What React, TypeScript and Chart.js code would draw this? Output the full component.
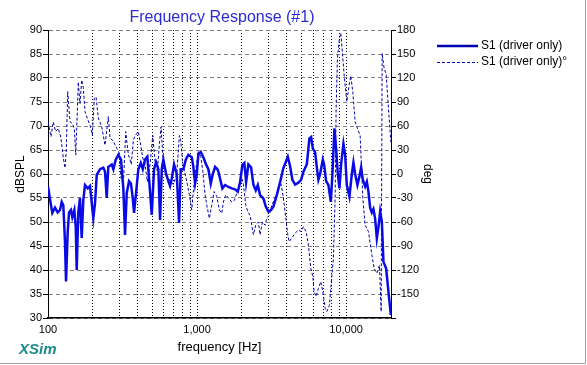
import React, { useEffect, useRef } from 'react';
import { Chart, registerables } from 'chart.js';

Chart.register(...registerables);

const splFreq = [
  100, 104.7, 106.9, 111.4, 116.2, 120.4, 123.6, 126.7, 130, 132.1, 135.6, 138.4, 142.6, 145.6, 150.2, 153.5, 155.8,
  159.7, 163.9, 168.3, 172.5, 177.1, 184.7, 191.4, 196.5, 201.4, 206.8, 212.3, 223.4, 235, 241.3, 247.7, 253.9, 267.6,
  274.4, 284.7, 296.4, 309, 320.2, 328.7, 337.4, 349.6, 360, 370.2, 377.8, 389.6, 403.6, 419, 432.2, 447.7, 463.9,
  478.5, 496.6, 514.5, 530.6, 549.9, 564.6, 579.6, 594.1, 619.4, 641.8, 658.9, 676.4, 700.8, 730.8, 757.2, 777.3,
  809.3, 839.8, 874.2, 921.3, 944.6, 969.6, 995.4, 1020, 1059, 1102, 1149, 1191, 1236, 1275, 1321, 1369, 1390, 1427,
  1479, 1542, 1623, 1710, 1799, 1876, 1944, 2014, 2077, 2133, 2210, 2304, 2387, 2477, 2555, 2647, 2786, 2891, 3009,
  3137, 3251, 3427, 3606, 3795, 3938, 4062, 4209, 4361, 4546, 4785, 4989, 5169, 5448, 5672, 5823, 5978, 6194, 6360,
  6518, 6691, 6976, 7117, 7342, 7606, 7893, 8093, 8346, 8568, 8796, 9016, 9256, 9592, 9847, 10108, 10522, 10921,
  11194, 11491, 11906, 12282, 12609, 12944, 13414, 13770, 14117, 14492, 14877, 15250, 15655, 16069, 16476, 16915,
  17366, 17800, 18556, 19227, 19953,
];
const splDb = [
  57.4, 53.5, 51.9, 53, 52, 52.5, 54.2, 53.5, 45.9, 37.6, 48, 52, 52.5, 51, 52.5, 49, 40,
  52, 55, 46.7, 54.5, 57.7, 57, 57.5, 54, 50.8, 54, 59.8, 61, 61.3, 60.5, 55, 61.5, 62,
  61, 63, 64, 63, 57, 47.3, 56, 58.5, 58, 55, 51.9, 56, 61, 62.3, 61, 63, 63.6,
  58.3, 51.5, 61, 62.5, 61, 50.4, 61, 63, 60, 58.5, 57.5, 59, 62, 60, 49.8, 61,
  61, 63, 64, 63.5, 61.5, 58, 60, 64, 64.6, 63.5, 62, 61, 58, 60, 61.5, 61, 60.5, 59,
  57, 57.7, 57.3, 57, 56.8, 56.3, 58.3, 61.9, 62.3, 58.3, 62, 61.4, 57.8, 56.6, 57.7, 55.6, 54.9, 53.2, 52.2,
  52.5, 53.2, 55.6, 58.3, 61.3, 62.5, 63.6, 61.6, 58.8, 57.8, 58.2, 58.8, 60.5, 62, 67.4, 67.7, 65.3, 64.5, 61.4,
  58.8, 60, 63, 62, 58.5, 57.7, 54.2, 60, 69.5, 65.3, 60, 57, 62, 66.3, 64, 57.7, 55.3, 60,
  62.4, 60, 57.7, 59.5, 61.4, 58.8, 57.4, 58.4, 56.3, 53, 52, 52.7, 50.7, 46.6, 49, 52.2,
  50, 41.7, 40.3, 35.5, 30.6,
];

const phaseFreq = [
  100, 104.7, 108.5, 112.6, 117.3, 122.2, 126.7, 130, 132.7, 135.6, 140.5, 145.6, 150.2, 153.5, 157.3, 159.7, 163.9,
  168.3, 172.5, 177.1, 184.7, 191.4, 198.3, 204.5, 210, 217.6, 229.3, 241.3, 253.9, 260.7, 274.4, 289.2, 299.6, 309,
  320.2, 332.3, 345.9, 355, 362, 373.7, 383.6, 403.6, 419, 432.2, 447.7, 463.9, 483.7, 504.3, 522.5, 541.5, 558.5,
  573.4, 594.1, 626.1, 658.9, 693.3, 730.8, 760.7, 777.3, 801.7, 830.8, 860.8, 887.8, 921.3, 944.6, 984.7, 1020,
  1059, 1092, 1132, 1162, 1209, 1255, 1300, 1356, 1412, 1465, 1502, 1558, 1623, 1710, 1780, 1847, 1914, 1995, 2045,
  2123, 2189, 2268, 2329, 2387, 2477, 2578, 2647, 2744, 2860, 2936, 3042, 3171, 3338, 3512, 3663, 3795, 3938, 4062,
  4144, 4321, 4546, 4785, 4989, 5169, 5389, 5585, 5796, 5978, 6099, 6291, 6518, 6764, 6976, 7230, 7422, 7725, 8017,
  8218, 8437, 8568, 8742, 9016, 9213, 9504, 9741, 10108, 10474, 10752, 11092, 11491, 11906, 12416, 12609, 12944,
  13414, 14117, 14877, 15416, 16069, 16733, 17179, 17447, 17989, 18556, 19227, 19953,
];
const phaseDeg = [
  65, 46.7, 65, 53, 57, 45, 20, 7.5, 30, 103, 65.4, 63, 57, 23.7, 78, 115, 88,
  117.5, 108, 78, 68, 61, 48.75, 94.6, 96.5, 70, 59, 36, 71.7, 45, 41, 32, 27, -5,
  -13, 53, 24, 18, 12, 42, 48, 52.9, 36, 20, 12, -9.6, 12, 48, 16, 3.5, 37.5,
  59, 12, -0.4, -9, -13, 0, 48, 42, 12, 0, -13, -26, -45, -21, 8, 27.9,
  22, 4, -26, -39, -55.4, -39, -22, -28, -45, -49, -35, -26, -30, -35, -33, -24, -17, -5, -13,
  -39, -47, -52, -64, -76, -64, -60, -76, -60, -64, -55, -52, -39, -30, -17, -13, -30, -55, -76,
  -84.6, -80, -74, -70, -72, -66, -72, -89, -118, -128, -147, -153, -143, -134.6, -147, -168, -172, -164, -128,
  -105, -30, 82.5, 144.6, 169.6, 176, 145, 119.6, 90.4, 111, 122.5, 102, 65.4, 57, 48, 20, -30,
  -64, -72, -101, -118, -124, -114, -172, 151, 132, 125, 82.5, 40,
];

const xTickValues = [
  100, 200, 300, 400, 500, 600, 700, 800, 900,
  1000, 2000, 3000, 4000, 5000, 6000, 7000, 8000, 9000,
  10000, 20000,
];
const xLabelValues = [100, 1000, 10000];

const titleText = 'Frequency Response (#1)';
const splLabel = 'S1 (driver only)';
const phaseLabel = 'S1 (driver only)°';

const FONT = '"Liberation Sans", Arial, sans-serif';

export default function App() {
  const canvasRef = useRef<HTMLCanvasElement | null>(null);

  useEffect(() => {
    const canvas = canvasRef.current;
    if (!canvas) return;

    const decor = {
      id: 'decor',
      afterDraw(chart: any) {
        const ctx = chart.ctx as CanvasRenderingContext2D;
        ctx.save();
        // title
        ctx.font = `16px ${FONT}`;
        ctx.fillStyle = '#2a2ad8';
        ctx.textAlign = 'center';
        ctx.textBaseline = 'middle';
        ctx.fillText(titleText, 222, 18);
        // legend
        ctx.strokeStyle = '#0000b0';
        ctx.lineWidth = 2.5;
        ctx.setLineDash([]);
        ctx.beginPath();
        ctx.moveTo(437, 46);
        ctx.lineTo(478, 46);
        ctx.stroke();
        ctx.lineWidth = 1;
        ctx.setLineDash([3, 2]);
        ctx.beginPath();
        ctx.moveTo(437, 62.5);
        ctx.lineTo(478, 62.5);
        ctx.stroke();
        ctx.setLineDash([]);
        ctx.font = `12px ${FONT}`;
        ctx.fillStyle = '#000';
        ctx.textAlign = 'left';
        ctx.fillText(splLabel, 481, 46);
        ctx.fillText(phaseLabel, 481, 62);
        // XSim
        ctx.font = `italic bold 15px ${FONT}`;
        ctx.fillStyle = '#1a8a8a';
        ctx.fillText('XSim', 19, 350);
        // frame
        ctx.strokeStyle = '#a0a0a0';
        ctx.lineWidth = 1;
        ctx.beginPath();
        ctx.moveTo(585.5, 0);
        ctx.lineTo(585.5, 363.5);
        ctx.lineTo(0, 363.5);
        ctx.stroke();
        ctx.restore();
      },
    };

    const chart = new Chart(canvas, {
      type: 'line',
      data: {
        datasets: [
          {
            label: splLabel,
            data: splFreq.map((f, i) => ({ x: f, y: splDb[i] })),
            yAxisID: 'y',
            borderColor: '#0a0ae6',
            borderWidth: 2.5,
            pointRadius: 0,
            fill: false,
            tension: 0,
          },
          {
            label: phaseLabel,
            data: phaseFreq.map((f, i) => ({ x: f, y: phaseDeg[i] })),
            yAxisID: 'y1',
            borderColor: '#0000a8',
            borderWidth: 1,
            borderDash: [3, 2],
            pointRadius: 0,
            fill: false,
            tension: 0,
          },
        ],
      },
      options: {
        animation: false,
        responsive: false,
        maintainAspectRatio: false,
        layout: { padding: { top: 30, right: 151, bottom: 7, left: 0 } },
        plugins: {
          legend: { display: false },
          title: { display: false },
          tooltip: { enabled: false },
        },
        scales: {
          x: {
            type: 'logarithmic',
            min: 100,
            max: 20000,
            afterBuildTicks: (s: any) => {
              s.ticks = xTickValues.map((v) => ({ value: v }));
            },
            afterFit: (s: any) => {
              s.height = 40;
            },
            ticks: {
              autoSkip: false,
              maxRotation: 0,
              minRotation: 0,
              padding: 5,
              color: '#000',
              font: { family: FONT, size: 11 },
              callback: (v: any) =>
                xLabelValues.includes(Number(v)) ? Number(v).toLocaleString('en-US') : '',
            },
            grid: { color: '#000', lineWidth: 1, drawTicks: false },
            border: { color: '#000', width: 1.5, dash: [1, 2] },
            title: {
              display: true,
              text: 'frequency [Hz]',
              color: '#000',
              font: { family: FONT, size: 13 },
              padding: { top: 0, bottom: 3 },
            },
          },
          y: {
            type: 'linear',
            position: 'left',
            min: 30,
            max: 90,
            afterFit: (s: any) => {
              s.width = 48;
            },
            ticks: {
              stepSize: 5,
              padding: 1,
              color: '#000',
              font: { family: FONT, size: 11 },
            },
            grid: { color: '#808080', lineWidth: 1, tickLength: 5, tickColor: '#000', tickBorderDash: [] },
            border: { color: '#000', width: 1, dash: [4, 3] },
            title: {
              display: true,
              text: 'dBSPL',
              color: '#000',
              font: { family: FONT, size: 12 },
              padding: { top: 13, bottom: 0 },
            },
          },
          y1: {
            type: 'linear',
            position: 'right',
            min: -180,
            max: 180,
            afterFit: (s: any) => {
              s.width = 45;
            },
            ticks: {
              stepSize: 30,
              padding: 1,
              color: '#000',
              font: { family: FONT, size: 11 },
              callback: (v: any) => (Number(v) === -180 ? '' : String(v)),
            },
            grid: { drawOnChartArea: false, tickLength: 5, tickColor: '#000', tickBorderDash: [] },
            border: { color: '#000', width: 1 },
            title: {
              display: true,
              text: 'deg',
              color: '#000',
              font: { family: FONT, size: 12 },
              padding: { top: 1, bottom: 0 },
            },
          },
        },
      },
      plugins: [decor],
    } as any);

    return () => {
      chart.destroy();
    };
  }, []);

  return (
    <div style={{ position: 'fixed', left: 0, top: 0, width: 587, height: 365, background: '#fff' }}>
      <canvas ref={canvasRef} width={587} height={365} style={{ display: 'block', width: 587, height: 365 }} />
    </div>
  );
}
